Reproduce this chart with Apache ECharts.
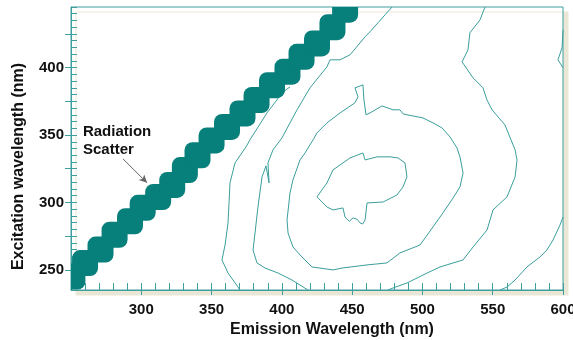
<!DOCTYPE html>
<html>
<head>
<meta charset="utf-8">
<script src="https://cdn.jsdelivr.net/npm/echarts@6/dist/echarts.min.js"></script>
<style>
  html, body { margin: 0; padding: 0; background: #fff; }
  #chart { width: 573px; height: 340px; }
</style>
</head>
<body>
<div id="chart"></div>
<script>
// Radiation scatter band (em = emission nm, ex = excitation nm)
const scatterEm = [251, 260, 271, 281, 292, 301, 312, 322, 331, 340, 350, 361, 372, 382, 393, 404, 414, 425, 436, 445];
const scatterEx = [245, 255, 265, 276, 286, 296, 304, 313, 324, 335, 346, 356, 366, 376, 387, 397, 408, 418, 430, 443];

// contour closest to the scatter band
const a1Em = [405.8, 400.8, 389.4, 377.3, 374.5, 366.7, 363.1, 362.4, 361.7, 359.6, 357.4, 361.7, 368.8, 370.2];
const a1Ex = [385.7, 382.0, 366.4, 346.4, 341.2, 329.3, 314.5, 299.6, 284.8, 268.4, 257.3, 247.6, 237.2, 235];

// second open contour
const a2Em = [478.4, 473.4, 468.4, 462.7, 459.2, 448.5, 441.4, 434.3, 432.1, 420.0, 410.8, 400.1, 393.7, 390.1, 390.9, 388.7, 385.9, 383.0, 380.9, 379.5, 382.3, 388.0, 397.3, 407.2, 418.6];
const a2Ex = [445, 439.2, 433.3, 426.6, 422.9, 409.5, 405.8, 405.8, 400.6, 385.0, 368.7, 347.9, 339.0, 329.3, 314.5, 327.1, 318.9, 296.6, 277.3, 264.7, 255.1, 251.3, 247.6, 242.4, 235];

// closed loop with spike
const bEm = [452.0, 454.2, 452.0, 457.7, 458.4, 459.9, 462.7, 471.2, 479.1, 484.0, 486.2, 489.0, 500.4, 507.5, 513.9, 519.6, 524.6, 526.7, 528.9, 526.7, 521.8, 514.6, 507.5, 498.3, 484.0, 474.8, 460.6, 442.8, 436.4, 421.4, 414.3, 407.9, 404.4, 403.7, 405.8, 407.9, 412.9, 416.5, 422.2, 425.0, 432.1, 441.4, 452.0];
const bEx = [373.9, 378.3, 385.0, 387.2, 376.1, 365.0, 366.4, 371.6, 368.7, 368.7, 365.7, 365.0, 362.7, 359.0, 355.3, 348.6, 340.4, 333.8, 321.9, 311.5, 303.3, 292.2, 281.8, 268.4, 262.5, 255.1, 253.6, 251.3, 249.9, 252.1, 259.5, 266.9, 277.3, 287.0, 307.0, 316.7, 331.5, 336.7, 346.4, 351.6, 359.0, 366.4, 373.9];

// innermost loop
const eEm = [425.0, 432.1, 436.4, 448.5, 457.7, 459.2, 467.7, 476.9, 482.6, 487.6, 489.0, 486.2, 481.9, 472.0, 460.6, 459.2, 457.5, 455.6, 453.5, 450.6, 448.0, 444.9, 443.5, 436.4, 432.1, 425.0];
const eEx = [304.1, 314.5, 324.1, 333.0, 336.7, 331.5, 333.8, 333.8, 333.0, 329.3, 318.9, 311.5, 305.5, 300.3, 299.6, 287.0, 284.0, 284.8, 287.5, 288.5, 286.0, 289.2, 295.9, 294.4, 296.6, 304.1];

// outer contour crossing top and bottom
const cEm = [544.5, 541.0, 533.8, 532.4, 528.2, 536.0, 543.1, 545.9, 549.5, 558.7, 565.9, 567.3, 565.9, 560.2, 550.2, 546.0, 536.0, 528.9, 512.5, 503.3, 489.0, 479.1, 475.5];
const cEx = [445, 435.5, 425.9, 413.2, 404.3, 392.4, 385.0, 376.1, 368.7, 357.5, 339.0, 331.5, 318.9, 304.1, 294.4, 279.6, 266.9, 257.3, 252.1, 247.6, 240.2, 236.5, 235];

// bottom-right corner contour
const dEm = [600, 597.9, 592.9, 588.6, 583.6, 574.4, 565.9, 560.2, 555.2];
const dEx = [289.2, 283.3, 272.1, 264.7, 259.5, 252.1, 242.4, 237.2, 235];

// small piece at right edge
const d2Em = [600, 599.3, 596.4, 600];
const d2Ex = [428.1, 414.7, 405.8, 399.9];

// ticks / labels
const xLabels = [300, 350, 400, 450, 500, 550, 600];
const yLabels = [250, 300, 350, 400];
const yMajorTicks = [250, 275, 300, 325, 350, 375, 400, 425];

// annotation
const noteText = 'Radiation\nScatter';
const notePos = [258.5, 359.0];
const arrowFrom = [287.0, 332.3];
const arrowTo = [304.1, 314.5];

const LINE = '#3a9e9b';
const BAND = '#077f7b';
const AXIS = '#3f9f9d';
const FONT = '"Liberation Sans", Arial, sans-serif';

const zip = (a, b) => a.map((v, i) => [v, b[i]]);

const chart = echarts.init(document.getElementById('chart'), null, { renderer: 'canvas' });

function contour(em, ex, extra) {
  return Object.assign({
    type: 'line',
    data: zip(em, ex),
    showSymbol: false,
    symbol: 'none',
    smooth: false,
    lineStyle: { color: LINE, width: 1 },
    silent: true,
    xAxisIndex: 0,
    yAxisIndex: 0,
    z: 3
  }, extra || {});
}

const xBase = {
  type: 'value', min: 250, max: 600, position: 'bottom',
  splitLine: { show: false }
};
const yBase = {
  type: 'value', min: 235, max: 445, position: 'left',
  splitLine: { show: false }
};

chart.setOption({
  animation: false,
  backgroundColor: '#fff',
  grid: {
    left: 71, right: 10, top: 7, bottom: 50,
    outerBoundsMode: 'none',
    containLabel: false,
    show: true,
    backgroundColor: '#fff',
    borderColor: AXIS,
    borderWidth: 1,
    shadowColor: '#ebe7d6',
    shadowBlur: 0,
    shadowOffsetX: 5,
    shadowOffsetY: 5
  },
  xAxis: [
    Object.assign({}, xBase, {
      interval: 10,
      axisLine: { show: true, lineStyle: { color: AXIS, width: 1 } },
      axisTick: { show: true, inside: true, length: 7, lineStyle: { color: AXIS } },
      axisLabel: { show: false }
    }),
    Object.assign({}, xBase, {
      interval: 50,
      axisLine: { show: false },
      axisTick: { show: true, inside: false, length: 5, customValues: xLabels, lineStyle: { color: AXIS } },
      axisLabel: {
        show: true, customValues: xLabels, margin: 12,
        color: '#111', fontFamily: FONT, fontWeight: 'bold', fontSize: 15
      },
      name: 'Emission Wavelength (nm)',
      nameLocation: 'middle',
      nameGap: 32,
      nameTextStyle: { color: '#111', fontFamily: FONT, fontWeight: 'bold', fontSize: 16, padding: [0, 0, 0, 30] }
    })
  ],
  yAxis: [
    Object.assign({}, yBase, {
      interval: 5,
      axisLine: { show: true, lineStyle: { color: AXIS, width: 1 } },
      axisTick: { show: true, inside: true, length: 6, lineStyle: { color: AXIS } },
      axisLabel: { show: false }
    }),
    Object.assign({}, yBase, {
      interval: 5,
      axisLine: { show: false },
      axisTick: { show: true, inside: false, length: 6, customValues: yMajorTicks, lineStyle: { color: AXIS } },
      axisLabel: {
        show: true, customValues: yLabels, margin: 7,
        color: '#111', fontFamily: FONT, fontWeight: 'bold', fontSize: 15
      },
      name: 'Excitation wavelength (nm)',
      nameLocation: 'middle',
      nameGap: 44,
      nameTextStyle: { color: '#111', fontFamily: FONT, fontWeight: 'bold', fontSize: 16, padding: [0, 36, 0, 0] }
    })
  ],
  series: [
    {
      type: 'custom',
      xAxisIndex: 0,
      yAxisIndex: 0,
      clip: true,
      silent: true,
      z: 4,
      data: zip(scatterEm, scatterEx),
      renderItem: function (params, api) {
        const p = api.coord([api.value(0), api.value(1)]);
        return {
          type: 'rect',
          shape: { x: p[0] - 13, y: p[1] - 13, width: 26, height: 26, r: 8 },
          style: { fill: BAND }
        };
      }
    },
    contour(a1Em, a1Ex, {
      markPoint: {
        symbol: 'circle',
        symbolSize: 0,
        silent: true,
        data: [{ coord: notePos }],
        label: {
          show: true,
          formatter: noteText,
          position: [0, 0],
          align: 'left',
          verticalAlign: 'top',
          color: '#111',
          fontFamily: FONT,
          fontWeight: 'bold',
          fontSize: 15,
          lineHeight: 18
        }
      },
      markLine: {
        silent: true,
        symbol: ['none', 'arrow'],
        symbolSize: [6, 8],
        label: { show: false },
        lineStyle: { color: '#666', width: 1, type: 'solid' },
        data: [[{ coord: arrowFrom }, { coord: arrowTo }]]
      }
    }),
    contour(a2Em, a2Ex),
    contour(bEm, bEx),
    contour(eEm, eEx),
    contour(cEm, cEx),
    contour(dEm, dEx),
    contour(d2Em, d2Ex)
  ]
});
</script>
</body>
</html>
